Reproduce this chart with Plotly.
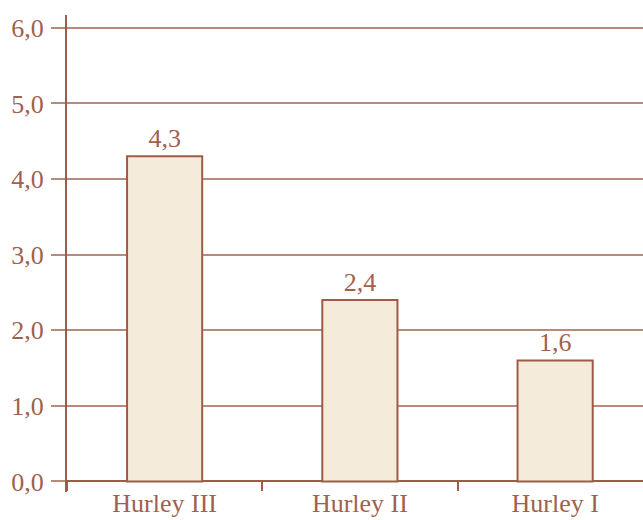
import plotly.graph_objects as go

categories = ["Hurley III", "Hurley II", "Hurley I"]
values = [4.3, 2.4, 1.6]
y_ticks = [0, 1, 2, 3, 4, 5, 6]

TXT = "#a0614c"
AXIS = "#9e5c47"
GRID = "#b98a7a"
FILL = "#f5ebda"
FONT = "Liberation Serif"
FS = 26

fig = go.Figure(go.Bar(
    x=categories, y=values, width=0.385,
    marker=dict(color=FILL, line=dict(color=AXIS, width=2)),
    text=values, texttemplate="%{y:.1f}", textposition="outside",
    textfont=dict(family=FONT, size=FS, color=TXT),
    cliponaxis=False,
))

fig.update_layout(
    width=643, height=520,
    margin=dict(l=67, r=0, t=15, b=28),
    plot_bgcolor="white", paper_bgcolor="white",
    separators=",.",
    showlegend=False,
    font=dict(family=FONT, size=FS, color=TXT),
    yaxis=dict(
        range=[-0.14, 6.17], tickvals=y_ticks, tickformat=".1f",
        automargin=False,
        showgrid=True, gridcolor=GRID, gridwidth=1.5,
        zeroline=True, zerolinecolor=AXIS, zerolinewidth=2,
        showline=True, linecolor=AXIS, linewidth=2,
        ticks="outside", ticklen=14, tickcolor=GRID, tickwidth=1.5,
        ticklabelstandoff=2,
        tickfont=dict(family=FONT, size=FS, color=TXT),
    ),
    xaxis=dict(
        type="category", range=[-0.5, 2.45],
        anchor="free", position=0.0232, automargin=False,
        tickson="boundaries", ticks="outside", ticklen=9,
        tickcolor=AXIS, tickwidth=1.5,
        ticklabelstandoff=4,
        showline=False, showgrid=False,
        tickfont=dict(family=FONT, size=FS, color=TXT),
    ),
)

fig.write_html("out.html")
